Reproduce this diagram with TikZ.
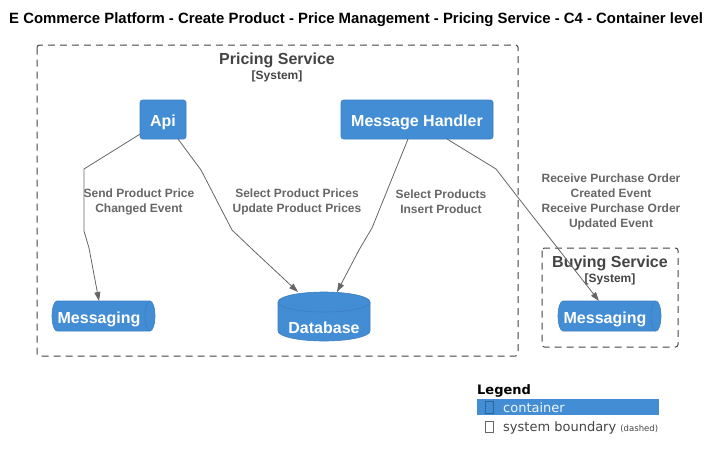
\documentclass[tikz,border=0pt]{standalone}
\usepackage{fontspec}
\setmainfont{Liberation Sans}
\newfontfamily\legfont{DejaVu Sans}
\usetikzlibrary{arrows.meta}
\definecolor{cblue}{HTML}{438DD5}
\definecolor{cborder}{HTML}{3C7FC0}
\definecolor{bgray}{HTML}{444444}
\definecolor{lgray}{HTML}{666666}
\tikzset{
  container/.style={fill=cblue,draw=cborder,line width=0.6pt,rounded corners=2.5pt,inner sep=0pt},
  boundary/.style={draw=bgray,dashed,dash pattern=on 7pt off 5pt,line width=1pt,rounded corners=2.5pt},
  btitle/.style={text=bgray,font=\fontsize{16}{18}\selectfont\bfseries,inner sep=0pt,anchor=base},
  bsub/.style={text=bgray,font=\fontsize{12}{14}\selectfont\bfseries,inner sep=0pt,anchor=base},
  rel/.style={draw=lgray,line width=0.8pt,-{Triangle[length=9pt,width=6pt]}},
  rlabel/.style={text=lgray,font=\fontsize{12}{15}\selectfont\bfseries,align=center,inner sep=0pt},
  ctext/.style={text=white,font=\fontsize{16}{18}\selectfont\bfseries,inner sep=0pt,anchor=base},
}
\begin{document}
\begin{tikzpicture}[x=1pt,y=-1pt]
\useasboundingbox (0,0) rectangle (712,459);
% title
\node[font=\fontsize{14.9}{16}\selectfont\bfseries,anchor=west,inner sep=0pt] (title) at (9,20) {E Commerce Platform - Create Product - Price Management - Pricing Service - C4 - Container level};
% boundaries
\draw[boundary] (37,45) rectangle (518,356);
\node[btitle] (pstitle) at (277,64.5) {Pricing Service};
\node[bsub] (pssub) at (277,79.5) {[System]};
\draw[boundary] (542,248) rectangle (678,347);
\node[btitle] (bstitle) at (610,267) {Buying Service};
\node[bsub] (bssub) at (610,282) {[System]};
% containers
\node[container,minimum width=46pt,minimum height=39pt] (api) at (163,119.5) {};
\node[ctext] (apit) at (163,126) {Api};
\node[container,minimum width=152pt,minimum height=39pt] (mh) at (417,119.5) {};
\node[ctext] (mht) at (417,126) {Message Handler};
% messaging left
\path[fill=cblue,draw=cborder,line width=0.6pt] (57,301) -- (150,301) arc[start angle=-90,end angle=90,x radius=5,y radius=15] -- (57,331) arc[start angle=90,end angle=270,x radius=5,y radius=15] -- cycle;
\draw[cborder,line width=0.6pt] (150,301) arc[start angle=270,end angle=90,x radius=5,y radius=15];
\node[ctext] (msgl) at (99,323.5) {Messaging};
\coordinate (msglT) at (99,301);
% messaging right
\path[fill=cblue,draw=cborder,line width=0.6pt] (563,301) -- (656,301) arc[start angle=-90,end angle=90,x radius=5,y radius=15] -- (563,331) arc[start angle=90,end angle=270,x radius=5,y radius=15] -- cycle;
\draw[cborder,line width=0.6pt] (656,301) arc[start angle=270,end angle=90,x radius=5,y radius=15];
\node[ctext] (msgr) at (605,323.5) {Messaging};
\coordinate (msgrT) at (599,301);
% database
\path[fill=cblue,draw=cborder,line width=0.6pt] (278,302) -- (278,331) arc[start angle=180,end angle=0,x radius=46,y radius=10] -- (370,302) arc[start angle=0,end angle=-180,x radius=46,y radius=10] -- cycle;
\draw[cborder,line width=0.6pt] (278,302) arc[start angle=180,end angle=0,x radius=46,y radius=10];
\node[ctext] (db) at (324,333.5) {Database};
\coordinate (dbL) at (298,292);
\coordinate (dbR) at (337,292);
% relations
\draw[rel] (api.south west) ++(0,-5) -- (84,169) -- (84,231) -- (89,248) -- (msglT);
\node[rlabel] (l1) at (139,202) {Send Product Price\\Changed Event};
\draw[rel] (178,139) -- (201,170) -- (232,230) -- (253,250) -- (dbL);
\node[rlabel] (l2) at (297,202) {Select Product Prices\\Update Product Prices};
\draw[rel] (408,139) -- (372,228) -- (359,250) -- (dbR);
\node[rlabel] (l3) at (441,202) {Select Products\\Insert Product};
\draw[rel] (447,139) -- (496,169) -- (520,200) -- (msgrT);
\node[rlabel] (l4) at (611,202) {Receive Purchase Order\\Created Event\\Receive Purchase Order\\Updated Event};
% legend
\node[font=\legfont\fontsize{13}{15}\selectfont\bfseries,anchor=west,inner sep=0pt] (leg) at (477,391) {Legend};
\fill[cblue] (477,399) rectangle (659,415);
\draw[cborder!80!black,line width=0.5pt] (485,401.5) rectangle (493,413);
\node[font=\legfont\fontsize{13}{15}\selectfont,text=white!92!cblue,anchor=west,inner sep=0pt] (lc) at (503,407.5) {container};
\draw[lgray,line width=0.6pt] (485,421) rectangle (493,432.5);
\node[font=\legfont\fontsize{13}{15}\selectfont,text=bgray,anchor=base west,inner sep=0pt] (lb) at (503,431) {system boundary {\fontsize{8.5}{10}\selectfont(dashed)}};
\end{tikzpicture}
\end{document}
